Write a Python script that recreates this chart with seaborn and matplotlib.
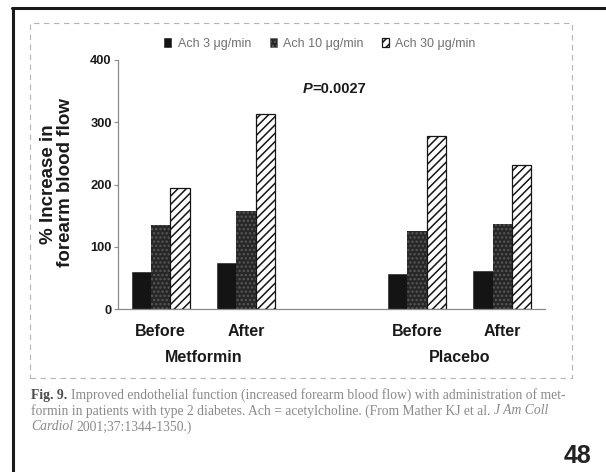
import numpy as np
import pandas as pd
import seaborn as sns
import matplotlib
matplotlib.use("Agg")
import matplotlib.pyplot as plt
import matplotlib.patches as mpatches
import matplotlib.lines as mlines
from matplotlib.transforms import blended_transform_factory

# ---------------- data ----------------
groups = ["Metformin Before", "Metformin After", "Placebo Before", "Placebo After"]
doses = ["Ach 3 \u03bcg/min", "Ach 10 \u03bcg/min", "Ach 30 \u03bcg/min"]
ach3 = [60, 74, 56, 61]
ach10 = [135, 157, 126, 136]
ach30 = [195, 313, 278, 232]
tick_labels = ["Before", "After", "Before", "After"]
treatments = ["Metformin", "Placebo"]
y_ticks = [0, 100, 200, 300, 400]
p_text = "=0.0027"
caption = [
    [("Fig. 9.", "bold"), ("Improved endothelial function (increased forearm blood flow) with administration of met-", "normal")],
    [("formin in patients with type 2 diabetes. Ach = acetylcholine. (From Mather KJ et al.", "normal"), ("J Am Coll", "italic")],
    [("Cardiol", "italic"), ("2001;37:1344-1350.)", "normal")],
]
page_no = "48"

df = pd.DataFrame({
    "group": groups * 3,
    "dose": np.repeat(doses, len(groups)),
    "value": ach3 + ach10 + ach30,
})
order = [groups[0], groups[1], "gap", groups[2], groups[3]]

# ---------------- style ----------------
sns.set_theme(style="white")
plt.rcParams["font.family"] = ["Liberation Sans", "DejaVu Sans"]
plt.rcParams["hatch.linewidth"] = 1.1

W, H = 606, 472
fig = plt.figure(figsize=(W / 100, H / 100), dpi=100)
fig.patch.set_facecolor("white")
ax = fig.add_axes([118 / W, 1 - 309 / H, (545 - 118) / W, (309 - 60) / H])

sns.barplot(data=df, x="group", y="value", hue="dose", order=order,
            hue_order=doses, width=0.68, errorbar=None, legend=False,
            saturation=1, ax=ax)

styles = [
    dict(facecolor="#141414", edgecolor="#141414", hatch=None, lw=0.4),
    dict(facecolor="#272727", edgecolor="#585858", hatch="....", lw=0.0),
    dict(facecolor="white", edgecolor="#151515", hatch="////", lw=0.9),
]
for cont, st in zip(ax.containers, styles):
    for bar in cont:
        bar.set_facecolor(st["facecolor"])
        bar.set_edgecolor(st["edgecolor"])
        bar.set_hatch(st["hatch"])
        bar.set_linewidth(st["lw"])

ax.set_xlim(-0.5, 4.5)
ax.set_ylim(0, 400)
ax.set_yticks(y_ticks)
ax.set_xticks([0, 1, 3, 4])
ax.set_xticklabels(tick_labels)
ax.set_xlabel("")
ax.set_ylabel("")
for s in ["top", "right"]:
    ax.spines[s].set_visible(False)
for s in ["left", "bottom"]:
    ax.spines[s].set_color("#8a8a8a")
    ax.spines[s].set_linewidth(0.9)
ax.tick_params(axis="y", length=3, width=0.8, color="#8a8a8a", pad=1.5,
               labelsize=9.3, labelcolor="#1a1a1a", left=True)
ax.tick_params(axis="x", length=0, pad=11, labelsize=11.5, labelcolor="#1a1a1a")
for lbl in ax.get_yticklabels() + ax.get_xticklabels():
    lbl.set_fontweight("bold")

# treatment group labels
tr = blended_transform_factory(ax.transData, fig.transFigure)
for xpos, name in zip([0.5, 3.5], treatments):
    ax.text(xpos, 1 - 358 / H, name, transform=tr, ha="center", va="center",
            fontsize=11.5, fontweight="bold", color="#1a1a1a")

# y label (two lines)
fig.text(49 / W, 1 - 184 / H, "% Increase in", rotation=90, ha="center",
         va="center", fontsize=13.5, fontweight="bold", color="#1a1a1a")
fig.text(66 / W, 1 - 182 / H, "forearm blood flow", rotation=90, ha="center",
         va="center", fontsize=13.5, fontweight="bold", color="#1a1a1a")

# P value
fig.text(312 / W, 1 - 89 / H, "P", ha="right", va="center", fontsize=10.5,
         fontweight="bold", fontstyle="italic", color="#1a1a1a")
fig.text(312 / W, 1 - 89 / H, p_text, ha="left", va="center", fontsize=10.5,
         fontweight="bold", color="#1a1a1a")

# legend
handles = [mpatches.Patch(facecolor=st["facecolor"], edgecolor=st["edgecolor"],
                          hatch=st["hatch"], lw=max(st["lw"], 0.4)) for st in styles]
fig.legend(handles, doses, loc="center", bbox_to_anchor=(320 / W, 1 - 44 / H),
           ncol=3, frameon=False, fontsize=9, handlelength=0.55,
           handleheight=0.75, handletextpad=0.5, columnspacing=1.5,
           labelcolor="#707070")

# page frames
fig.add_artist(mlines.Line2D([12.5 / W, 12.5 / W], [0, 1 - 8 / H], color="#1a1a1a", lw=2.2))
fig.add_artist(mlines.Line2D([12 / W, 1], [1 - 8 / H, 1 - 8 / H], color="#1a1a1a", lw=2.2))
fig.add_artist(mpatches.Rectangle((30 / W, 1 - 378 / H), (572 - 30) / W, (378 - 23) / H,
                                  transform=fig.transFigure, fill=False,
                                  edgecolor="#b5b5b5", lw=0.8, ls=(0, (5, 4))))

# caption
renderer = fig.canvas.get_renderer()
cap_size = 9.8
line_y = [395, 411, 427]
for parts, yy in zip(caption, line_y):
    x = 31
    for txt, style in parts:
        kw = dict(fontsize=cap_size, family=["Liberation Serif", "DejaVu Serif"], va="center", ha="left")
        if style == "bold":
            kw.update(fontweight="bold", color="#4a4a4a")
        elif style == "italic":
            kw.update(fontstyle="italic", color="#8a8a8a")
        else:
            kw.update(color="#8a8a8a")
        t = fig.text(x / W, 1 - yy / H, txt, **kw)
        bb = t.get_window_extent(renderer)
        x += bb.width + cap_size * 100 / 72 * 0.28

fig.text(578 / W, 1 - 456 / H, page_no, ha="center", va="center", fontsize=18,
         fontweight="bold", color="#222222")

fig.savefig("out.png", dpi=100, facecolor="white")
